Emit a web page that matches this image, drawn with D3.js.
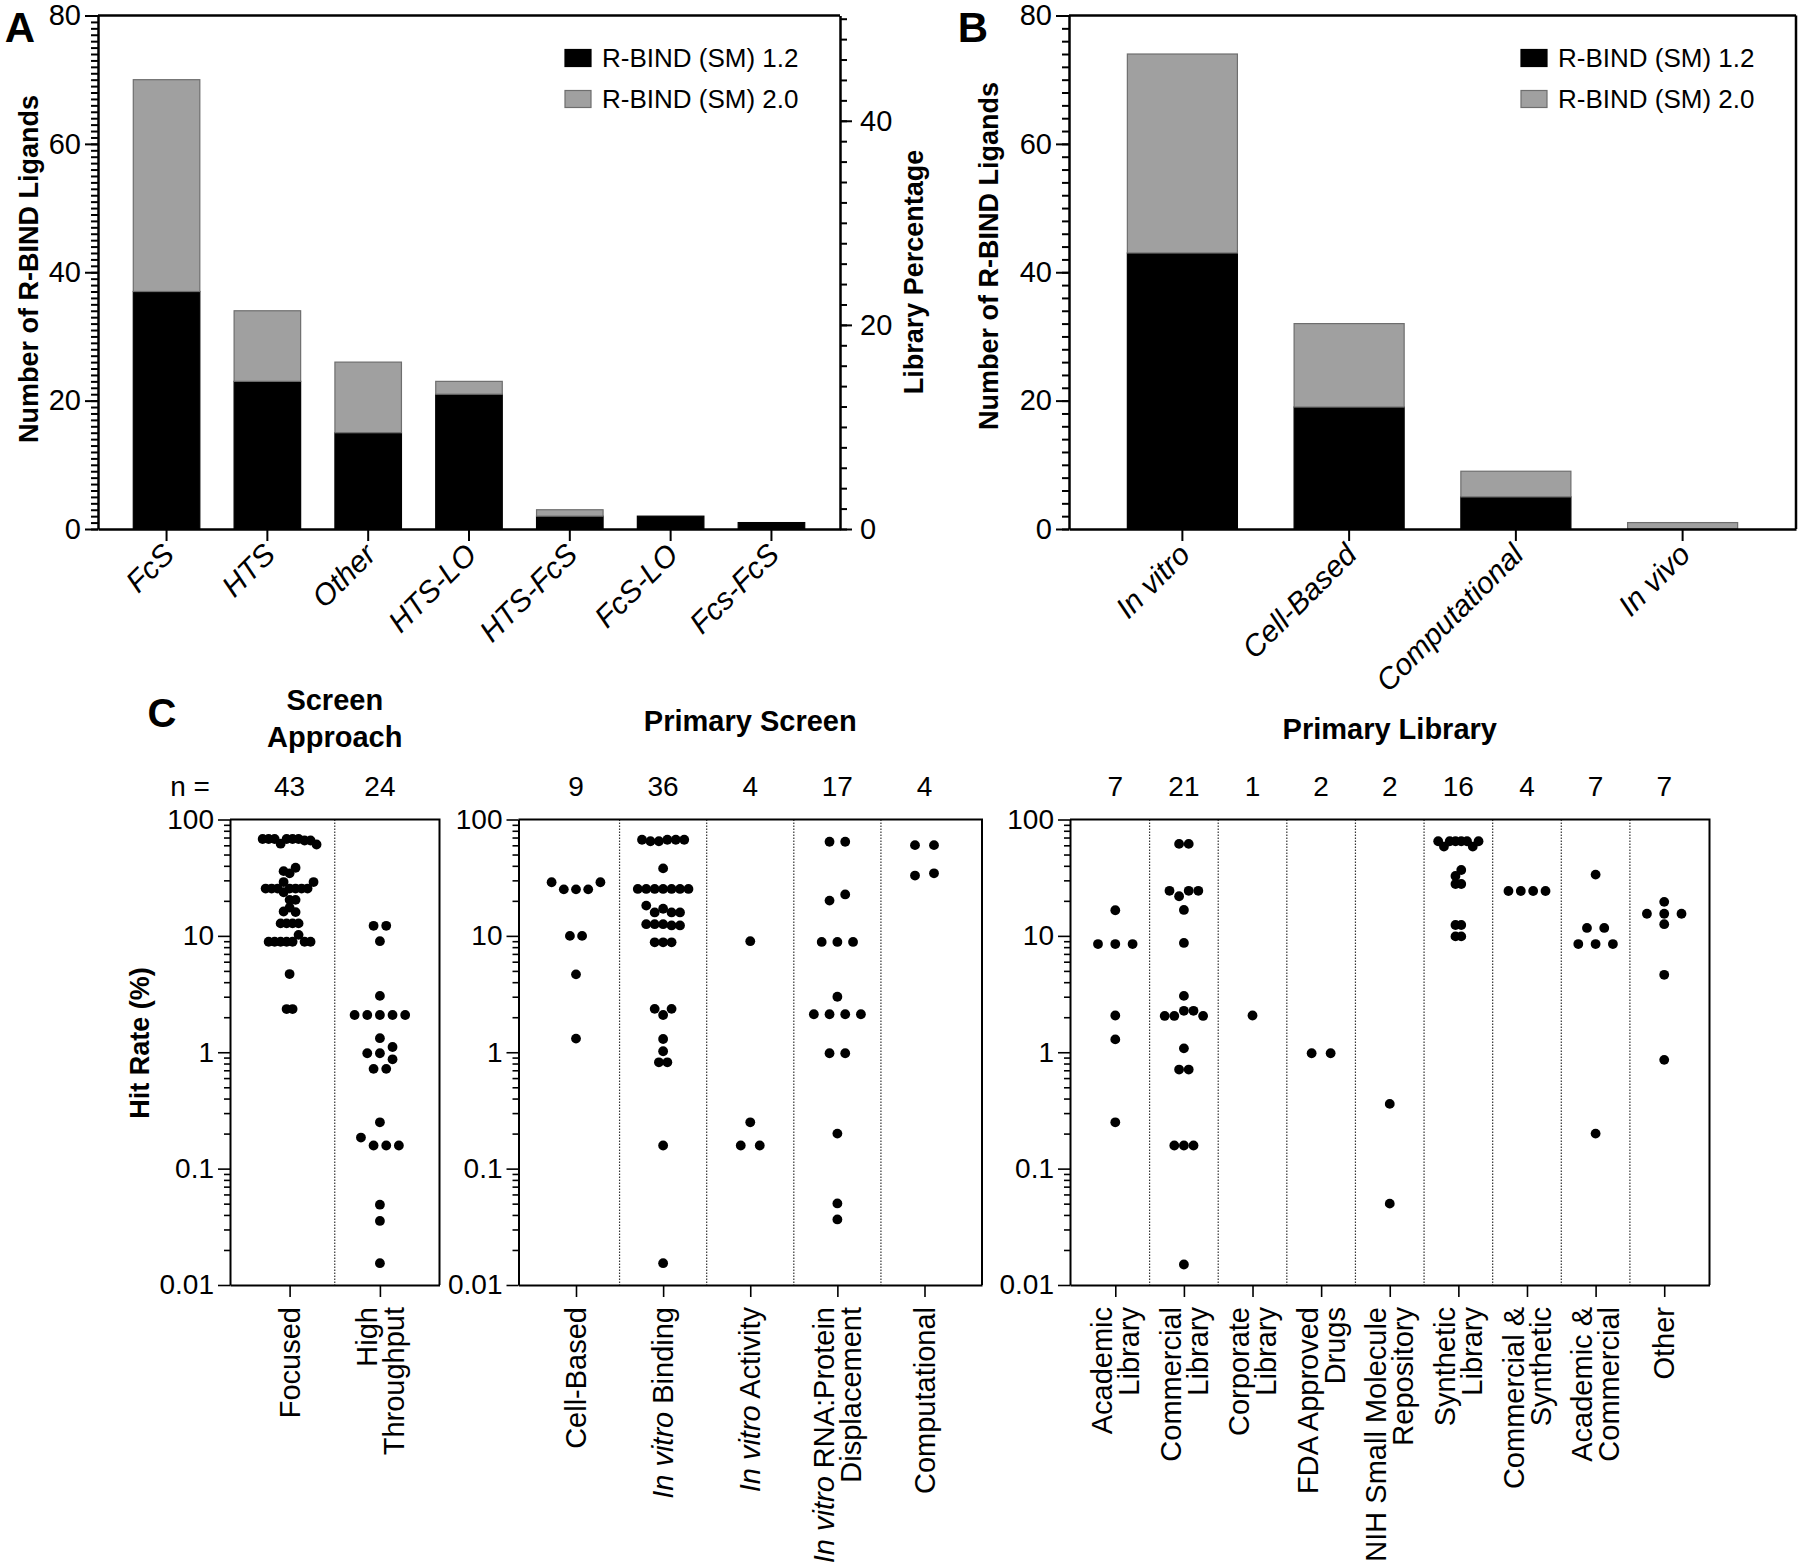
<!DOCTYPE html>
<html>
<head>
<meta charset="utf-8">
<script src="https://cdn.jsdelivr.net/npm/d3@7"></script>
<style>
  body { margin: 0; background: #fff; }
  svg { display: block; font-family: "Liberation Sans", Arial, sans-serif; }
</style>
</head>
<body>
<svg id="fig" width="1800" height="1567"></svg>
<script>
// ---- panel A / B: stacked bars ----
const seriesNames = ["R-BIND (SM) 1.2", "R-BIND (SM) 2.0"];
const approachCats = ["FcS", "HTS", "Other", "HTS-LO", "HTS-FcS", "FcS-LO", "Fcs-FcS"];
const approachV12 = [37, 23, 15, 21, 2, 2, 1];
const approachV20 = [33, 11, 11, 2, 1, 0, 0];
const screenCats = ["In vitro", "Cell-Based", "Computational", "In vivo"];
const screenV12 = [43, 19, 5, 0];
const screenV20 = [31, 13, 4, 1];
const libraryTotal = 159; // ligands in R-BIND (SM) 2.0, right axis of A
const countTicks = [0, 20, 40, 60, 80];
const pctTicks = [0, 20, 40];

// ---- panel C: hit rates (%), one array per column ----
// order inside an array = left-to-right order inside a row of dots
const focused = [68, 68, 68, 62, 68, 68, 68, 66, 66, 61, 36, 34.5, 38.5,
  25.5, 25.5, 25.5, 29, 25.5, 25.5, 25.5, 25.5, 29, 23.7, 20.4, 20.4,
  16.2, 17.5, 16.0, 12.8, 12.8, 12.8, 12.8,
  8.9, 8.9, 8.9, 8.9, 8.9, 10.2, 8.9, 8.9, 4.7, 2.35, 2.35];
const highThroughput = [12.2, 12.2, 9.0, 3.05, 2.09, 2.09, 2.09, 2.09, 2.09, 1.32,
  0.98, 0.98, 1.11, 0.87, 0.72, 0.72, 0.25, 0.185, 0.158, 0.158, 0.158,
  0.049, 0.0355, 0.0154];
const cellBased = [28.9, 25.1, 25.1, 25.1, 28.9, 10, 10, 4.67, 1.31];
const vitroBinding = [67, 65, 65, 67, 67, 67, 38, 25.3, 25.3, 25.3, 25.3, 25.3, 25.3, 25.3,
  18.2, 15.9, 17.1, 15.9, 15.9, 12.6, 12.6, 12.6, 12.3, 12.3, 8.8, 8.8, 8.8,
  2.36, 2.09, 2.36, 1.3, 1.02, 0.82, 0.82, 0.158, 0.0154];
const vitroActivity = [9.0, 0.25, 0.158, 0.158];
const vitroDisplacement = [64.4, 64.4, 20.1, 22.7, 8.87, 8.87, 8.87, 3.0,
  2.12, 2.12, 2.12, 2.12, 0.98, 0.98, 0.2, 0.0502, 0.0366];
const computational = [60.2, 60.2, 33, 34.5];
const academicLib = [16.6, 8.5, 8.5, 8.5, 2.07, 1.29, 0.25];
const commercialLib = [61.7, 61.7, 24.4, 21.9, 24.4, 24.4, 16.7, 8.7, 3.05,
  2.05, 2.05, 2.27, 2.27, 2.05, 1.08, 0.71, 0.71, 0.158, 0.158, 0.158, 0.015];
const corporateLib = [2.07];
const fdaDrugs = [0.98, 0.98];
const nihRepository = [0.36, 0.05];
const syntheticLib = [65, 58.5, 65, 65, 65, 65, 58.5, 65, 32.7, 36.8, 27.9, 27.9,
  12.4, 12.4, 9.9, 9.9];
const commSynthetic = [24.3, 24.3, 24.3, 24.3];
const acadCommercial = [33.6, 11.7, 11.7, 8.5, 8.5, 8.5, 0.2];
const otherLib = [19.6, 15.5, 15.5, 15.5, 12.6, 4.63, 0.86];

// labels: "|" breaks a line, text between "_" is italic
const approachGroups = ["Focused", "High|Throughput"];
const screenGroups = ["Cell-Based", "_In vitro_ Binding", "_In vitro_ Activity",
  "_In vitro_ RNA:Protein|Displacement", "Computational"];
const libraryGroups = ["Academic|Library", "Commercial|Library", "Corporate|Library",
  "FDA Approved|Drugs", "NIH Small Molecule|Repository", "Synthetic|Library",
  "Commercial &|Synthetic", "Academic &|Commercial", "Other"];
const hitTicks = [0.01, 0.1, 1, 10, 100];

const svg = d3.select("#fig");
const FONT = '"Liberation Sans", Arial, sans-serif';
const GRAY = "#a0a0a0";

function styleAxis(sel, size, width) {
  sel.attr("font-family", FONT).attr("font-size", size);
  sel.select(".domain").attr("stroke", "#000").attr("stroke-width", width);
  sel.selectAll(".tick line").attr("stroke", "#000").attr("stroke-width", width * 0.8);
  sel.selectAll(".tick text").attr("fill", "#000");
}

// minor ticks go in their own sibling group so the major axis stays clean
function axisPair(parent, tx, axisFn, scale, minorValues, minorSize, minorWidth) {
  const wrap = parent.append("g").attr("transform", `translate(${tx},0)`);
  const m = wrap.append("g")
    .call(axisFn(scale).tickValues(minorValues).tickSize(minorSize).tickFormat(""));
  m.select(".domain").remove();
  m.selectAll(".tick line").attr("stroke", "#000").attr("stroke-width", minorWidth);
  return wrap.append("g");
}

function bold(x, y, text, size, rotate) {
  const t = svg.append("text")
    .attr("font-family", FONT).attr("font-weight", "bold")
    .attr("font-size", size).attr("text-anchor", "middle").text(text);
  if (rotate) t.attr("transform", `translate(${x},${y}) rotate(-90)`).attr("dy", "0.35em");
  else t.attr("x", x).attr("y", y);
  return t;
}

// ---------------- stacked bar panels ----------------
const barTop = 15.5, barBottom = 529;

function barPanel(cfg) {
  const g = svg.append("g");
  const x = d3.scaleBand().domain(cfg.cats).range([cfg.left, cfg.right])
    .paddingInner(0.34).paddingOuter(0.35);
  const y = d3.scaleLinear().domain([0, 80]).range([barBottom, barTop]);

  const rows = cfg.cats.map((c, i) => ({ cat: c, a: cfg.v12[i], b: cfg.v20[i] }));
  const layers = d3.stack().keys(["a", "b"])(rows);
  const fills = ["#000", GRAY], strokes = ["#000", "#6e6e6e"];
  layers.forEach((layer, li) => {
    g.append("g").selectAll("rect")
      .data(layer.filter(d => d[1] > d[0]))
      .join("rect")
      .attr("x", d => x(d.data.cat))
      .attr("width", x.bandwidth())
      .attr("y", d => y(d[1]))
      .attr("height", d => y(d[0]) - y(d[1]))
      .attr("fill", fills[li])
      .attr("stroke", strokes[li])
      .attr("stroke-width", 1.2);
  });

  // frame
  g.append("line").attr("x1", cfg.left).attr("x2", cfg.right)
    .attr("y1", barTop).attr("y2", barTop).attr("stroke", "#000").attr("stroke-width", 2.5);

  const left = axisPair(g, cfg.left, d3.axisLeft, y, d3.range(0, 81, cfg.minorStep), 7, 2);
  left.call(d3.axisLeft(y).tickValues(countTicks).tickSize(13).tickSizeOuter(0).tickPadding(4));
  styleAxis(left, 29, 2.5);

  const bottom = g.append("g").attr("transform", `translate(0,${barBottom})`);
  bottom.call(d3.axisBottom(x).tickSize(12).tickSizeOuter(0).tickFormat(""));
  styleAxis(bottom, 29, 2.5);

  cfg.cats.forEach(c => {
    g.append("text")
      .attr("transform", `translate(${x(c) + x.bandwidth() / 2 + 2},${barBottom + 20}) rotate(-45)`)
      .attr("text-anchor", "end").attr("dy", "0.35em")
      .attr("font-family", FONT).attr("font-size", 30).attr("font-style", "italic")
      .text(c);
  });

  // legend
  seriesNames.forEach((name, i) => {
    const ly = 58 + i * 41;
    g.append("rect").attr("x", cfg.right - 275).attr("y", ly - 8.5)
      .attr("width", 26).attr("height", 17)
      .attr("fill", fills[i]).attr("stroke", strokes[i]).attr("stroke-width", 1.2);
    g.append("text").attr("x", cfg.right - 238).attr("y", ly).attr("dy", "0.36em")
      .attr("font-family", FONT).attr("font-size", 26).text(name);
  });

  bold(cfg.titleX, cfg.titleY, "Number of R-BIND Ligands", 27, true);
  bold(cfg.letterX, 42, cfg.letter, 42, false);
  return { g, y };
}

const panelA = barPanel({
  cats: approachCats, v12: approachV12, v20: approachV20,
  left: 98, right: 840, minorStep: 1,
  titleX: 29, titleY: 269, letter: "A", letterX: 20
});

// right axis of A: share of the library
const pct = d3.scaleLinear().domain([0, 80 / libraryTotal * 100]).range([barBottom, barTop]);
const rightA = axisPair(panelA.g, 840, d3.axisRight, pct, d3.range(0, 50.1, 2), 7, 2);
rightA.call(d3.axisRight(pct).tickValues(pctTicks).tickSize(12).tickSizeOuter(0).tickPadding(8));
styleAxis(rightA, 29, 2.5);
bold(914, 272, "Library Percentage", 27, true);

const panelB = barPanel({
  cats: screenCats, v12: screenV12, v20: screenV20,
  left: 1069, right: 1796, minorStep: 2,
  titleX: 989, titleY: 256, letter: "B", letterX: 973
});
panelB.g.append("line").attr("x1", 1796).attr("x2", 1796)
  .attr("y1", barTop).attr("y2", barBottom).attr("stroke", "#000").attr("stroke-width", 2.5);

// ---------------- hit rate dot plots ----------------
const hitTop = 819.5, hitBottom = 1285;
const yHit = d3.scaleLog().domain([0.01, 100]).range([hitBottom, hitTop]);
const DOT_R = 4.9, ROW_GAP = 8;

function minorLogTicks() {
  const out = [];
  for (let e = -2; e < 2; e++) {
    for (let m = 2; m <= 9; m++) out.push(+(m * Math.pow(10, e)).toPrecision(3));
  }
  return out;
}

// rows of dots with close values are centred on the column, like Prism does
function layoutColumn(values, step) {
  const pts = values.map((v, i) => ({ v, i, py: yHit(v) }));
  const sorted = pts.slice().sort((a, b) => b.v - a.v || a.i - b.i);
  const rows = [];
  sorted.forEach(p => {
    const row = rows[rows.length - 1];
    if (row && p.py - row[0].py < ROW_GAP) row.push(p);
    else rows.push([p]);
  });
  const maxRow = d3.max(rows, r => r.length);
  const s = Math.min(19, 0.63 * step / Math.max(0.5, maxRow - 0.5));
  const hit = Math.min(s, 2 * DOT_R) * 0.95;
  const placed = [];
  rows.forEach(row => {
    row.sort((a, b) => a.i - b.i);
    const base = row.map((p, k) => (k - (row.length - 1) / 2) * s);
    const shifts = [0];
    for (let k = 1; k <= 12; k++) shifts.push(k * s / 2, -k * s / 2);
    let shift = shifts.find(sh => row.every((p, k) =>
      placed.every(q => Math.hypot(base[k] + sh - q.dx, p.py - q.py) >= hit)));
    if (shift === undefined) shift = 0;
    row.forEach((p, k) => { p.dx = base[k] + shift; placed.push(p); });
  });
  return pts;
}

function richLine(textSel, line) {
  line.split("_").forEach((part, k) => {
    if (!part) return;
    textSel.append("tspan").attr("font-style", k % 2 ? "italic" : "normal").text(part);
  });
}

function dotPanel(cfg) {
  const g = svg.append("g");
  const idx = d3.range(cfg.columns.length);
  const x = d3.scalePoint().domain(idx).range([cfg.left, cfg.right]).padding(0.66);
  const step = x.step();

  // dotted separators between columns
  idx.slice(1).forEach(i => {
    const sx = (x(i - 1) + x(i)) / 2;
    g.append("line").attr("x1", sx).attr("x2", sx).attr("y1", hitTop).attr("y2", hitBottom)
      .attr("stroke", "#333").attr("stroke-width", 1.2).attr("stroke-dasharray", "1.5,1.5");
  });

  // frame
  g.append("path")
    .attr("d", `M${cfg.left},${hitTop}H${cfg.right}V${hitBottom}`)
    .attr("fill", "none").attr("stroke", "#000").attr("stroke-width", 2);

  const left = axisPair(g, cfg.left, d3.axisLeft, yHit, minorLogTicks(), 6, 1.6);
  left.call(d3.axisLeft(yHit).tickValues(hitTicks).tickSize(12).tickSizeOuter(0)
    .tickPadding(4).tickFormat(d => String(d)));
  styleAxis(left, 28, 2);

  const bottom = g.append("g").attr("transform", `translate(0,${hitBottom})`);
  bottom.call(d3.axisBottom(x).tickSize(12).tickSizeOuter(0).tickFormat(""));
  styleAxis(bottom, 28, 2);

  cfg.columns.forEach((vals, i) => {
    const cx = x(i);
    const pts = layoutColumn(vals, step);
    g.append("g").selectAll("circle").data(pts).join("circle")
      .attr("cx", d => cx + d.dx).attr("cy", d => d.py).attr("r", DOT_R).attr("fill", "#000");

    // n
    g.append("text").attr("x", cx).attr("y", 796).attr("text-anchor", "middle")
      .attr("font-family", FONT).attr("font-size", 28).text(vals.length);

    // category label, rotated
    const lines = cfg.labels[i].split("|");
    const lg = g.append("g").attr("transform", `translate(${cx},1307) rotate(-90)`);
    lines.forEach((line, k) => {
      const t = lg.append("text").attr("x", 0).attr("y", (k - (lines.length - 1) / 2) * 27)
        .attr("dy", "0.35em").attr("text-anchor", "end")
        .attr("font-family", FONT).attr("font-size", 29);
      richLine(t, line);
    });
  });

  cfg.title.forEach((t, k) => bold((cfg.left + cfg.right) / 2, cfg.titleY + k * 37, t, 29, false));
}

dotPanel({
  left: 230, right: 439.5,
  columns: [focused, highThroughput], labels: approachGroups,
  title: ["Screen", "Approach"], titleY: 710
});
dotPanel({
  left: 518.5, right: 982,
  columns: [cellBased, vitroBinding, vitroActivity, vitroDisplacement, computational],
  labels: screenGroups, title: ["Primary Screen"], titleY: 731
});
dotPanel({
  left: 1070, right: 1709.5,
  columns: [academicLib, commercialLib, corporateLib, fdaDrugs, nihRepository,
    syntheticLib, commSynthetic, acadCommercial, otherLib],
  labels: libraryGroups, title: ["Primary Library"], titleY: 739
});

svg.append("text").attr("x", 190).attr("y", 796).attr("text-anchor", "middle")
  .attr("font-family", FONT).attr("font-size", 28).text("n =");
bold(140, 1043, "Hit Rate (%)", 27, true);
bold(162, 727, "C", 40, false);
</script>
</body>
</html>
